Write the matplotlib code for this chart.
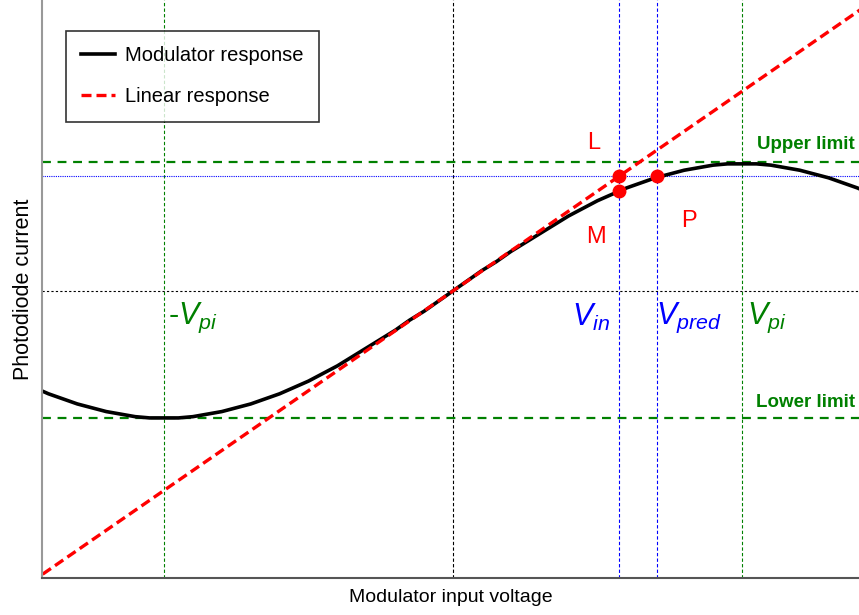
import matplotlib.pyplot as plt

plt.rcParams['font.family'] = ['Liberation Sans', 'DejaVu Sans']
plt.rcParams['mathtext.fontset'] = 'custom'
plt.rcParams['mathtext.it'] = 'Liberation Sans:italic'
plt.rcParams['mathtext.rm'] = 'Liberation Sans'

# modulator input voltage (in units of V_pi) and measured photodiode current
volt = [-1.42, -1.40, -1.35, -1.30, -1.25, -1.20, -1.15, -1.10, -1.05, -1.00,
        -0.95, -0.90, -0.85, -0.80, -0.75, -0.70, -0.65, -0.60, -0.55, -0.50,
        -0.45, -0.40, -0.35, -0.30, -0.25, -0.20, -0.15, -0.10, -0.05, 0.00,
        0.05, 0.10, 0.15, 0.20, 0.25, 0.30, 0.35, 0.40, 0.45, 0.50,
        0.55, 0.60, 0.65, 0.70, 0.75, 0.80, 0.85, 0.90, 0.95, 1.00,
        1.05, 1.10, 1.15, 1.20, 1.25, 1.30, 1.35, 1.40, 1.42]
current = [-0.79, -0.81, -0.85, -0.89, -0.92, -0.95, -0.97, -0.99, -1.00, -1.00,
           -1.00, -0.99, -0.97, -0.95, -0.92, -0.89, -0.85, -0.81, -0.76, -0.71,
           -0.65, -0.59, -0.52, -0.45, -0.38, -0.31, -0.23, -0.16, -0.08, 0.00,
           0.08, 0.16, 0.23, 0.31, 0.38, 0.45, 0.52, 0.59, 0.65, 0.71,
           0.76, 0.81, 0.85, 0.89, 0.92, 0.95, 0.97, 0.99, 1.00, 1.00,
           1.00, 0.99, 0.97, 0.95, 0.92, 0.89, 0.85, 0.81, 0.79]

# linear response (tangent at the quadrature point)
lin_volt = [-1.42, 1.42]
lin_current = [-2.23, 2.23]

v_pi = 1.0
v_in = 0.574
v_pred = 0.706
i_lin = 0.902     # L: linear response at V_in
i_mod = 0.784     # M: modulator response at V_in
upper_limit = 1.012
lower_limit = -1.0

fig = plt.figure(figsize=(8.59, 6.15), dpi=100)
ax = fig.add_axes([0.049, 0.0602, 0.951, 0.9398])

vdash = (0, (3, 2))
ax.axvline(-v_pi, color='green', lw=0.8, ls=vdash)
ax.axvline(v_pi, color='green', lw=0.8, ls=vdash)
ax.axvline(0, color='black', lw=0.8, ls=vdash)
ax.axvline(v_in, color='blue', lw=0.8, ls=vdash)
ax.axvline(v_pred, color='blue', lw=0.8, ls=vdash)
ax.axhline(0, color='black', lw=0.8, ls=(0, (2, 2)))
ax.axhline(i_lin, color='blue', lw=0.8, ls=(0, (1, 1)))
ax.axhline(upper_limit, color='green', lw=1.6, ls=(0, (4, 3)))
ax.axhline(lower_limit, color='green', lw=1.6, ls=(0, (4, 3)))

ax.plot(volt, current, color='black', lw=2.6, label='Modulator response')
ax.plot(lin_volt, lin_current, color='red', lw=2.4, ls=(0, (3, 1.5)),
        label='Linear response')

ax.plot([v_in, v_in, v_pred], [i_lin, i_mod, i_lin], 'o', color='red',
        ms=9, zorder=5)

ax.text(0.488, 1.165, 'L', color='red', fontsize=17, ha='center', va='center')
ax.text(0.495, 0.425, 'M', color='red', fontsize=17, ha='center', va='center')
ax.text(0.817, 0.551, 'P', color='red', fontsize=17, ha='center', va='center')

vstyle = dict(fontsize=22, ha='center', va='center')
ax.text(-0.90, -0.21, r'-$\mathit{V}_{\mathit{pi}}$', color='green', **vstyle)
ax.text(0.478, -0.21, r'$\mathit{V}_{\mathit{in}}$', color='blue', **vstyle)
ax.text(0.817, -0.21, r'$\mathit{V}_{\mathit{pred}}$', color='blue', **vstyle)
ax.text(1.087, -0.21, r'$\mathit{V}_{\mathit{pi}}$', color='green', **vstyle)

ax.text(1.39, 1.15, 'Upper limit', color='green', fontsize=13.5,
        fontweight='bold', ha='right', va='center')
ax.text(1.39, -0.88, 'Lower limit', color='green', fontsize=13.5,
        fontweight='bold', ha='right', va='center')

leg = ax.legend(loc='upper left', bbox_to_anchor=(0.029, 0.946), fontsize=14.5,
                frameon=True, fancybox=False, edgecolor='black',
                borderaxespad=0, handlelength=1.7, handletextpad=0.5,
                borderpad=0.75, labelspacing=1.1)
leg.get_frame().set_linewidth(1.2)

ax.set_xlim(-1.422, 1.405)
ax.set_ylim(-2.26, 2.29)
ax.set_xticks([])
ax.set_yticks([])
ax.spines['top'].set_visible(False)
ax.spines['right'].set_visible(False)
ax.spines['left'].set_color('#999999')
ax.spines['bottom'].set_color('#555555')
ax.spines['left'].set_linewidth(1.5)
ax.spines['bottom'].set_linewidth(1.5)

ax.set_xlabel('Modulator input voltage', fontsize=14, labelpad=8)
ax.set_ylabel('Photodiode current', fontsize=15.5, labelpad=6)

fig.savefig('out.png', dpi=100)
